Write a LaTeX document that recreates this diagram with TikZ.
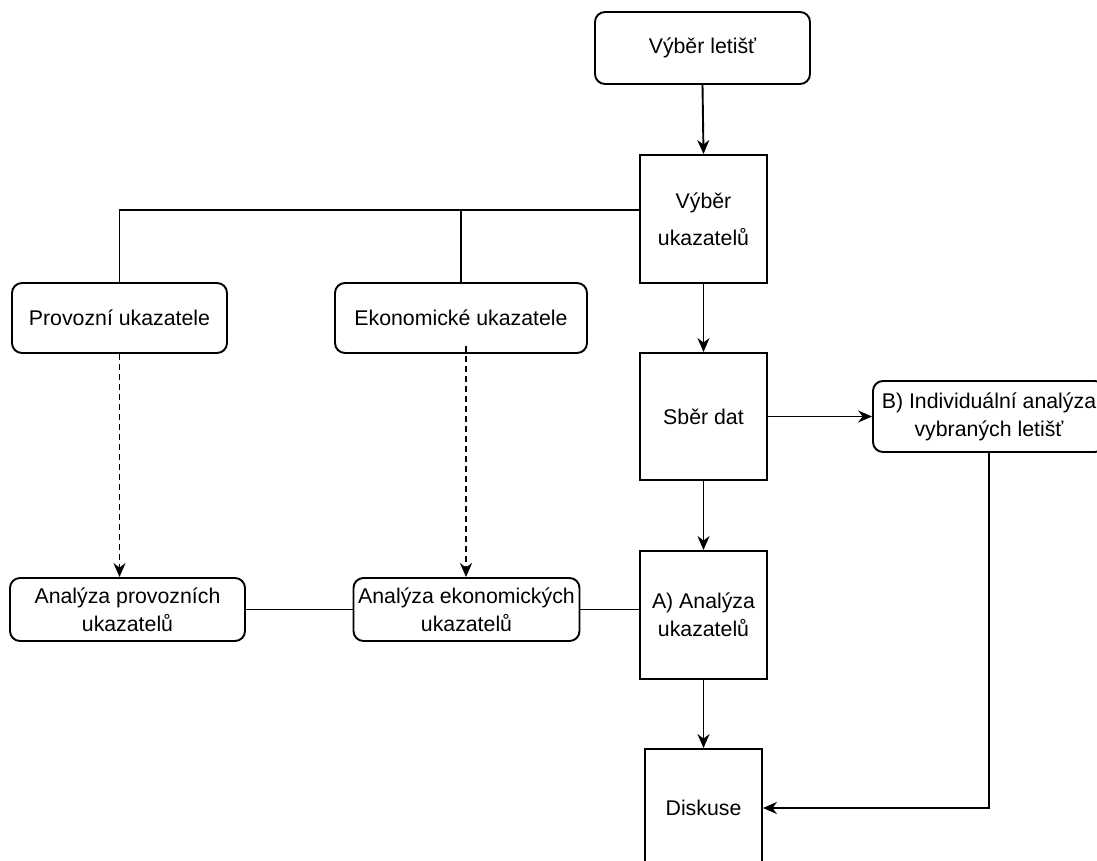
\documentclass[tikz,border=0pt]{standalone}
\usepackage{fontspec}
\setmainfont{Liberation Sans}
\usetikzlibrary{arrows.meta}
\begin{document}
\begin{tikzpicture}[x=1pt,y=-1pt,
  every node/.style={font=\fontsize{21.3}{28}\selectfont, align=center, inner sep=0pt},
  rbox/.style={draw, line width=1.9pt, rounded corners=10pt, minimum width=#1},
  sbox/.style={draw, line width=1.9pt, minimum width=127pt, minimum height=128pt},
  conn/.style={line width=1.9pt},
  arr/.style={conn, -{Stealth[length=14pt,width=12pt,inset=4.5pt]}},
  darr/.style={arr, dash pattern=on 6pt off 4pt}
]
\useasboundingbox (0,0) rectangle (1097,861);
\clip (0,0) rectangle (1097,861);

\node[rbox=215pt, minimum height=72pt] (top) at (702.5,48) {Výběr letišť};
\node[sbox, font=\fontsize{21.3}{37}\selectfont] (vu) at (703.5,219) {Výběr\\ukazatelů};
\node[rbox=215pt, minimum height=70pt] (prov) at (119.5,318) {Provozní ukazatele};
\node[rbox=252pt, minimum height=70pt] (ekon) at (461,318) {Ekonomické ukazatele};
\node[sbox, minimum height=127pt] (sber) at (703.5,416.5) {Sběr dat};
\node[rbox=232pt, minimum height=71pt] (indiv) at (989,416.5) {B) Individuální analýza\\vybraných letišť};
\node[rbox=235pt, minimum height=63pt] (aprov) at (127.5,609.5) {Analýza provozních\\ukazatelů};
\node[rbox=226pt, minimum height=63pt] (aekon) at (466.5,609.5) {Analýza ekonomických\\ukazatelů};
\node[sbox] (aanal) at (703.5,615) {A) Analýza\\ukazatelů};
\node[sbox, minimum width=117pt, minimum height=118pt] (disk) at (703.5,808) {Diskuse};

\draw[arr] (top.south) -- (vu.north);
\coordinate (j) at ([yshift=9pt]vu.west);
\draw[conn] (j) -| (prov.north);
\draw[conn] (ekon.north) -- (ekon.north |- j);
\draw[arr] (vu.south) -- (sber.north);
\draw[arr] (sber.east) -- (sber.east -| indiv.west);
\draw[arr] (sber.south) -- (aanal.north);
\draw[arr] (aanal.south) -- (disk.north);
\draw[arr] (indiv.south) |- (disk.east);
\draw[darr] (prov.south) -- (prov.south |- aprov.north);
\coordinate (ed) at ([xshift=5pt,yshift=8pt]ekon.south);
\draw[darr] (ed) -- (ed |- aekon.north);
\draw[conn] (aprov.east) -- (aekon.west);
\draw[conn] (aekon.east) -- (aekon.east -| aanal.west);
\end{tikzpicture}
\end{document}
